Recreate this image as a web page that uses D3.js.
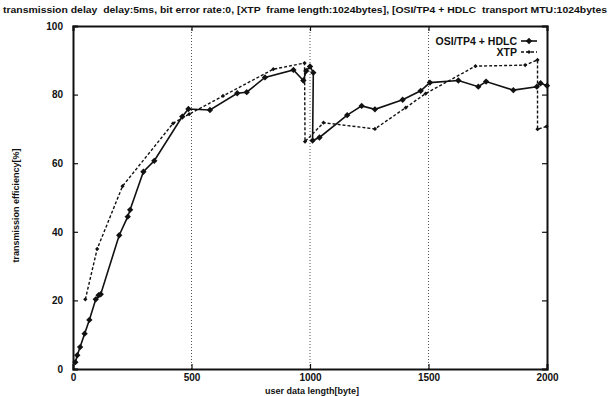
<!DOCTYPE html>
<html>
<head>
<meta charset="utf-8">
<script src="https://cdn.jsdelivr.net/npm/d3@7"></script>
<style>
  body { margin: 0; background: #fff; }
  text { font-family: "Liberation Sans", Arial, sans-serif; font-weight: bold; fill: #111; }
</style>
</head>
<body>
<div id="chart"></div>
<script>
// Data
const titleText = "transmission delay  delay:5ms, bit error rate:0, [XTP  frame length:1024bytes], [OSI/TP4 + HDLC  transport MTU:1024bytes";
const seriesNames = ["OSI/TP4 + HDLC", "XTP"];

const osiX = [10, 18, 30, 49, 69, 96, 108, 117, 195, 231, 241, 297, 343, 461, 487, 578, 693, 733, 810, 930, 972, 984, 1000, 1014, 1011, 1040, 1157, 1218, 1274, 1391, 1467, 1506, 1626, 1710, 1743, 1858, 1957, 1973, 2000];
const osiY = [2, 4, 6.4, 10.3, 14.3, 20.3, 21.5, 21.8, 39, 44.4, 46.4, 57.5, 60.7, 73.6, 75.8, 75.5, 80.4, 80.7, 85, 87.2, 84.1, 86.9, 88.2, 86.4, 66.6, 67.5, 74, 76.7, 75.7, 78.5, 81.1, 83.5, 84.1, 82.3, 83.8, 81.3, 82.3, 83.3, 82.6];

const xtpX = [52, 102, 209, 422, 490, 633, 845, 977, 979, 1057, 1274, 1404, 1488, 1698, 1908, 1960, 1960, 1998];
const xtpY = [20.3, 35, 53.3, 71.6, 74.3, 79.6, 87.4, 89.2, 66.3, 71.8, 70, 76.2, 80.3, 88.3, 88.6, 90.1, 69.9, 70.7];

const xTicks = [0, 500, 1000, 1500, 2000];
const yTicks = [0, 20, 40, 60, 80, 100];

function createChart() {
    const margin = { top: 26, right: 64, bottom: 27, left: 73 };
    const width = 611 - margin.left - margin.right;
    const height = 396 - margin.top - margin.bottom;

    const svg = d3.select("#chart").append("svg")
        .attr("width", 611)
        .attr("height", 396);

    // titel
    svg.append("text")
        .attr("x", 3)
        .attr("y", 13)
        .attr("font-size", 9.5)
        .style("white-space", "pre")
        .attr("textLength", 604)
        .attr("lengthAdjust", "spacingAndGlyphs")
        .text(titleText);

    const g = svg.append("g")
        .attr("transform", `translate(${margin.left},${margin.top})`);

    const x = d3.scaleLinear().domain([0, 2000]).range([0, width]);
    const y = d3.scaleLinear().domain([0, 100]).range([height, 0]);

    // prickade stödlinjer
    g.selectAll(".grid")
        .data(xTicks.slice(1, 4))
        .enter().append("line")
        .attr("x1", d => x(d)).attr("x2", d => x(d))
        .attr("y1", 0).attr("y2", height)
        .attr("stroke", "#555")
        .attr("stroke-width", 1)
        .attr("stroke-dasharray", "1,2");

    // axlar
    g.append("g")
        .attr("transform", `translate(0,${height})`)
        .call(d3.axisBottom(x).tickValues(xTicks).tickSize(-5).tickPadding(5).tickFormat(d3.format("d")));
    g.append("g")
        .call(d3.axisLeft(y).tickValues(yTicks).tickSize(-5).tickPadding(10));
    g.append("g")
        .attr("transform", `translate(${width},0)`)
        .call(d3.axisRight(y).tickValues(yTicks).tickSize(-5).tickFormat(""));
    g.append("g")
        .call(d3.axisTop(x).tickValues(xTicks).tickSize(-5).tickFormat(""));

    g.selectAll(".domain").attr("stroke", "#111").attr("stroke-width", 2);
    g.selectAll(".tick line").attr("stroke", "#111").attr("stroke-width", 1.2);
    g.selectAll(".tick text").attr("font-size", 10).attr("font-family", "Liberation Sans, Arial, sans-serif")
        .attr("font-weight", "bold").attr("fill", "#111");

    // axeltitlar
    svg.append("text")
        .attr("x", margin.left + width / 2 + 2)
        .attr("y", 394)
        .attr("text-anchor", "middle")
        .attr("font-size", 9)
        .text("user data length[byte]");

    svg.append("text")
        .attr("transform", `translate(19,${margin.top + height / 2 + 8}) rotate(-90)`)
        .attr("text-anchor", "middle")
        .attr("font-size", 9)
        .text("transmission efficiency[%]");

    const osi = osiX.map((d, i) => [d, osiY[i]]);
    const xtp = xtpX.map((d, i) => [d, xtpY[i]]);

    const line = d3.line().x(d => x(d[0])).y(d => y(d[1]));

    // XTP streckad
    g.append("path")
        .datum(xtp)
        .attr("d", line)
        .attr("fill", "none")
        .attr("stroke", "#111")
        .attr("stroke-width", 1.4)
        .attr("stroke-dasharray", "3,2");

    g.selectAll(".xtp")
        .data(xtp)
        .enter().append("path")
        .attr("class", "xtp")
        .attr("transform", d => `translate(${x(d[0])},${y(d[1])}) rotate(45)`)
        .attr("d", d3.symbol(d3.symbolSquare, 9))
        .attr("fill", "#111");

    // OSI heldragen
    g.append("path")
        .datum(osi)
        .attr("d", line)
        .attr("fill", "none")
        .attr("stroke", "#111")
        .attr("stroke-width", 1.6);

    g.selectAll(".osi")
        .data(osi)
        .enter().append("path")
        .attr("class", "osi")
        .attr("transform", d => `translate(${x(d[0])},${y(d[1])}) rotate(45)`)
        .attr("d", d3.symbol(d3.symbolSquare, 20))
        .attr("fill", "#111");

    // legend
    const legend = g.append("g").attr("transform", `translate(${width - 10},0)`);
    seriesNames.forEach((name, i) => {
        const ly = 15 + i * 11;
        legend.append("text")
            .attr("x", -20)
            .attr("y", ly + 4)
            .attr("text-anchor", "end")
            .attr("font-size", 10.5)
            .text(name);
        legend.append("line")
            .attr("x1", -16).attr("x2", 0)
            .attr("y1", ly).attr("y2", ly)
            .attr("stroke", "#111")
            .attr("stroke-width", i === 0 ? 1.6 : 1.4)
            .attr("stroke-dasharray", i === 0 ? null : "3,2");
        legend.append("path")
            .attr("transform", `translate(-8,${ly}) rotate(45)`)
            .attr("d", d3.symbol(d3.symbolSquare, i === 0 ? 20 : 9))
            .attr("fill", "#111");
    });
}

createChart();
</script>
</body>
</html>
